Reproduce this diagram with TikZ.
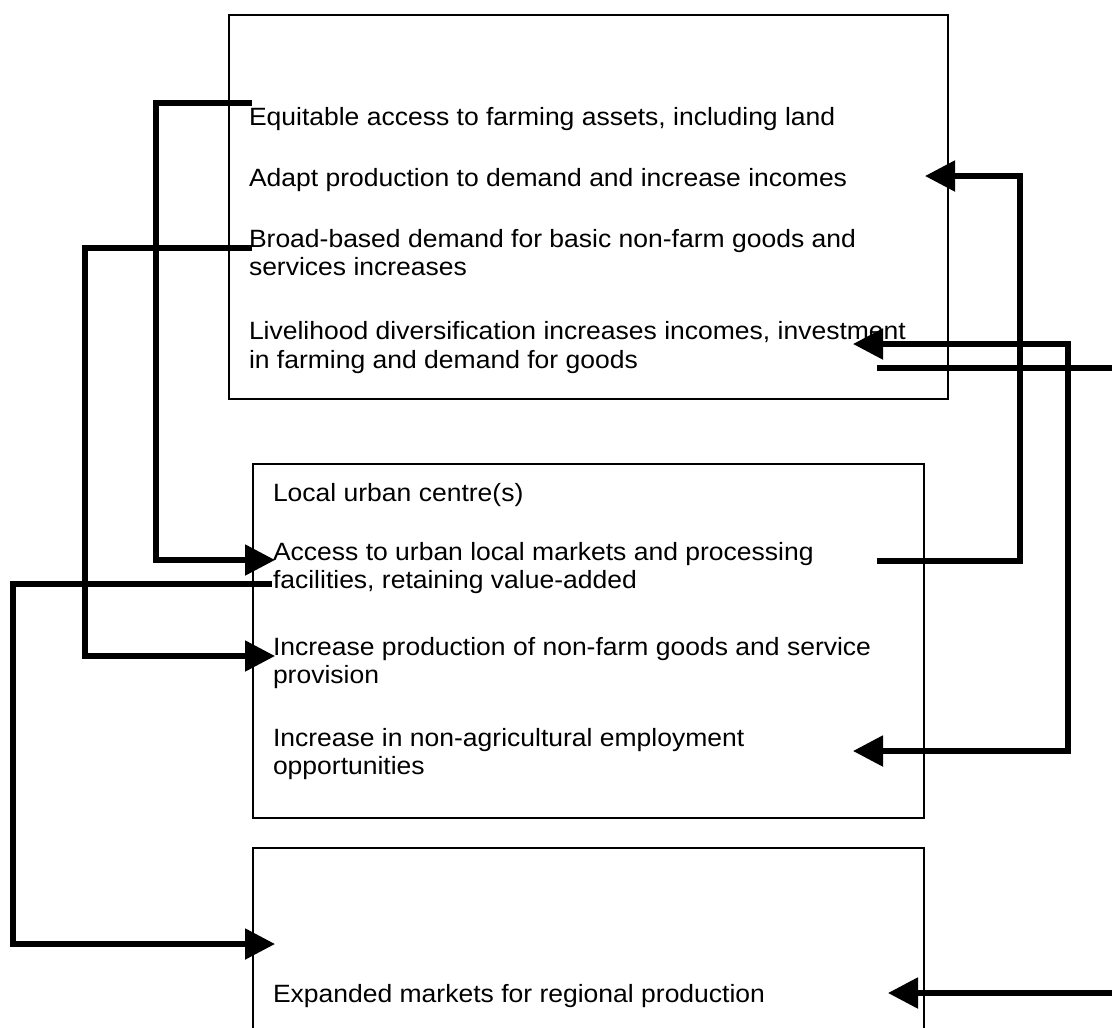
\documentclass[tikz,border=0pt]{standalone}
\usepackage{fontspec}
\setmainfont{Liberation Sans}[FakeStretch=1.06]
\usetikzlibrary{arrows.meta}
\tikzset{
  box/.style={draw, line width=1.8pt, inner sep=0pt, outer sep=0pt, anchor=north west},
  conn/.style={line width=5.3pt, line join=miter},
  arr/.style={-{Triangle[length=30pt,width=30pt]}},
  dblarr/.style={{Triangle[length=30pt,width=30pt]}-{Triangle[length=30pt,width=30pt]}},
  txt/.style={anchor=base west, inner sep=0pt, outer sep=0pt, font=\fontsize{25}{28.5}\selectfont}
}
\begin{document}
\begin{tikzpicture}[x=1pt,y=-1pt]
\clip (0,0) rectangle (1112,1028);
\fill[white] (0,0) rectangle (1112,1028);

% boxes
\node[box, minimum width=719pt, minimum height=384pt] (b1) at (229,15) {};
\node[box, minimum width=671pt, minimum height=354pt] (b2) at (253,464) {};
\node[box, minimum width=671pt, minimum height=220pt] (b3) at (253,848) {};

% texts, box 1
\node[txt] (t1) at (249,125) {Equitable access to farming assets, including land};
\node[txt] (t2) at (249,186) {Adapt production to demand and increase incomes};
\node[txt] (t3a) at (249,247) {Broad-based demand for basic non-farm goods and};
\node[txt] (t3b) at (249,275) {services increases};
\node[txt] (t4a) at (249,339) {Livelihood diversification increases incomes, investment};
\node[txt] (t4b) at (249,368) {in farming and demand for goods};

% texts, box 2
\node[txt] (u0) at (273,501) {Local urban centre(s)};
\node[txt] (u1a) at (273,560) {Access to urban local markets and processing};
\node[txt] (u1b) at (273,588) {facilities, retaining value-added};
\node[txt] (u2a) at (273,655) {Increase production of non-farm goods and service};
\node[txt] (u2b) at (273,683) {provision};
\node[txt] (u3a) at (273,746) {Increase in non-agricultural employment};
\node[txt] (u3b) at (273,774) {opportunities};

% texts, box 3
\node[txt] (v1) at (273,1002) {Expanded markets for regional production};

% connector end points
\coordinate (c1s) at (252,103);
\coordinate (c1e) at (275,560);
\coordinate (c2s) at (252,248);
\coordinate (c2e) at (275,656);
\coordinate (c3s) at (272,584);
\coordinate (c3e) at (275,944);
\coordinate (c4s) at (877,561);
\coordinate (c4e) at (925,176);
\coordinate (c5s) at (877,368);
\coordinate (c5e) at (1130,368);
\coordinate (c6s) at (1130,993);
\coordinate (c6e) at (888,993);
\coordinate (c7s) at (853,344);
\coordinate (c7e) at (853,751);

% left connectors
\draw[conn, arr] (c1s) -- (156,103) |- (c1e);
\draw[conn, arr] (c2s) -- (85,248) |- (c2e);
\draw[conn, arr] (c3s) -- (13,584) |- (c3e);

% right connectors
\draw[conn, arr] (c4s) -- (1020,561) |- (c4e);
\draw[conn] (c5s) -- (c5e);
\draw[conn, arr] (c6s) -- (c6e);
\draw[conn, dblarr] (c7s) -- (1068,344) |- (c7e);
\end{tikzpicture}
\end{document}
